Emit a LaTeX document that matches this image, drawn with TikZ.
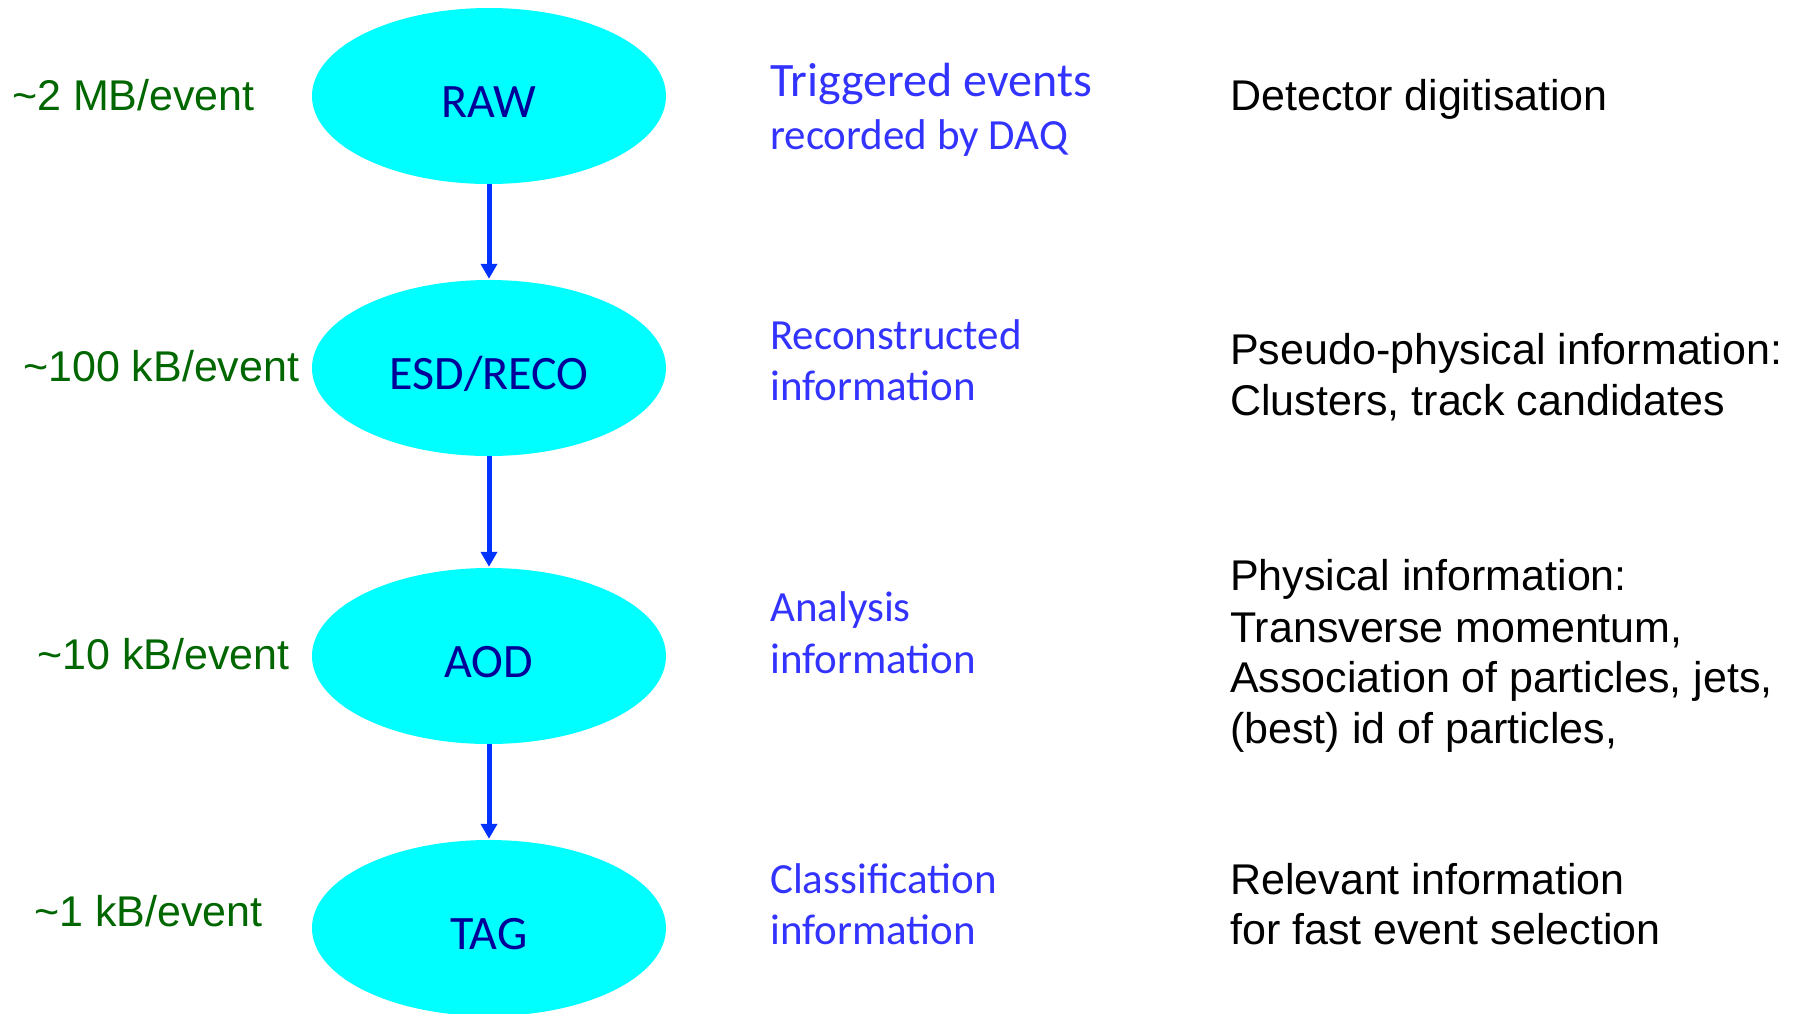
\documentclass[tikz,border=0pt]{standalone}
\usepackage{fontspec}
\setmainfont{Liberation Sans}
\newfontfamily\carl{Carlito}
\usetikzlibrary{shapes.geometric,arrows.meta}
\definecolor{cyanfill}{HTML}{00FFFF}
\definecolor{navytxt}{HTML}{000099}
\definecolor{arrowblue}{HTML}{0033FF}
\definecolor{bluetxt}{HTML}{3333FF}
\definecolor{greentxt}{HTML}{006600}
\tikzset{
  databox/.style={ellipse, fill=cyanfill, draw=none, minimum width=354pt, minimum height=176pt, inner sep=0pt, text=navytxt, text height=43pt, text depth=0pt, font=\carl\fontsize{48}{58}\selectfont},
  sizelabel/.style={anchor=west, inner sep=0pt, text=greentxt, font=\fontsize{43}{51}\selectfont},
  desclabel/.style={anchor=west, inner sep=0pt, text=bluetxt, font=\carl\fontsize{43}{51}\selectfont},
  desclabelbig/.style={anchor=west, inner sep=0pt, text=bluetxt, font=\carl\fontsize{48}{51}\selectfont},
  infolabel/.style={anchor=west, inner sep=0pt, text=black, font=\fontsize{43}{51}\selectfont},
  flowarrow/.style={draw=arrowblue, line width=5pt, -{Triangle[width=16pt,length=15pt]}, shorten >=1pt}
}
\begin{document}
\begin{tikzpicture}[x=1pt,y=-1pt]
\useasboundingbox (0,0) rectangle (1794,1013);
\node[databox] (raw) at (489,96) {RAW};
\node[databox] (esd) at (489,368) {ESD/RECO};
\node[databox] (aod) at (489,656) {AOD};
\node[databox] (tag) at (489,928) {TAG};
\draw[flowarrow] (raw.south) -- (esd.north);
\draw[flowarrow] (esd.south) -- (aod.north);
\draw[flowarrow] (aod.south) -- (tag.north);
\node[sizelabel] (s1) at (12,95) {\textasciitilde2 MB/event};
\node[sizelabel] (s2) at (23,366) {\textasciitilde100 kB/event};
\node[sizelabel] (s3) at (37,654) {\textasciitilde10 kB/event};
\node[sizelabel] (s4) at (34,911) {\textasciitilde1 kB/event};
\node[desclabelbig] (d1a) at (770,84) {Triggered events};
\node[desclabel] (d1b) at (770,138) {recorded by DAQ};
\node[desclabel] (d2a) at (770,335) {Reconstructed};
\node[desclabel] (d2b) at (770,386) {information};
\node[desclabel] (d3a) at (770,610) {Analysis};
\node[desclabel] (d3b) at (770,659) {information};
\node[desclabel] (d4a) at (770,879) {Classification};
\node[desclabel] (d4b) at (770,930) {information};
\node[infolabel] (i1) at (1230,99) {Detector digitisation};
\node[infolabel] (i2a) at (1230,353) {Pseudo-physical information:};
\node[infolabel] (i2b) at (1230,403) {Clusters, track candidates};
\node[infolabel] (i3a) at (1230,579) {Physical information:};
\node[infolabel] (i3b) at (1230,630) {Transverse momentum,};
\node[infolabel] (i3c) at (1230,681) {Association of particles, jets,};
\node[infolabel] (i3d) at (1230,732) {(best) id of particles,};
\node[infolabel] (i4a) at (1230,879) {Relevant information};
\node[infolabel] (i4b) at (1230,929) {for fast event selection};
\end{tikzpicture}
\end{document}
